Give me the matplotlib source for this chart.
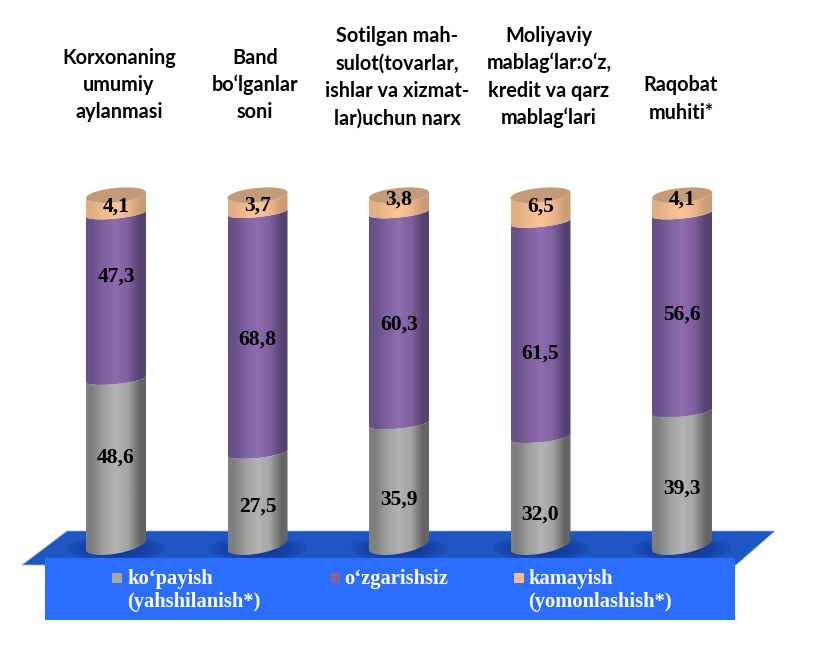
import numpy as np
import matplotlib
matplotlib.use("Agg")
import matplotlib.pyplot as plt
from matplotlib.patches import Polygon, Rectangle, PathPatch
from matplotlib.path import Path

# values
titles = ["Korxonaning\numumiy\naylanmasi",
          "Band\nbo‘lganlar\nsoni",
          "Sotilgan mah-\nsulot(tovarlar,\nishlar va xizmat-\nlar)uchun narx",
          "Moliyaviy\nmablag‘lar:o‘z,\nkredit va qarz\nmablag‘lari",
          "Raqobat\nmuhiti*"]
kopayish = [48.6, 27.5, 35.9, 32.0, 39.3]
ozgarishsiz = [47.3, 68.8, 60.3, 61.5, 56.6]
kamayish = [4.1, 3.7, 3.8, 6.5, 4.1]
legend_labels = ["ko‘payish\n(yahshilanish*)", "o‘zgarishsiz", "kamayish\n(yomonlashish*)"]

# layout, in picture pixels
W, H = 817, 654
X0, STEP = 116.0, 141.5      # first column centre, column spacing
Y0, SCALE = 555.0, 3.5       # y pixel of value 0, pixels per unit
RADIUS = 30.0
ARC_MID = (5.0, 3.0)         # half height and lean of the ellipse between segments
ARC_BASE = (9.0, 5.0)
ARC_TOP = (7.3, 2.8)
title_pos = [(119, 85), (255, 85), (397, 77), (549, 77), (681, 99)]
label_y = [[458, 277, 207], [507, 340, 206], [500, 325, 200], [515, 354, 207], [489, 315, 200]]
legend_pos = [(112, 127), (330, 344), (514, 528)]

SERIF = "Liberation Serif"
grey_ramp = ["#7e7e7e", "#a0a0a0", "#b2b2b2", "#a4a4a4", "#646464"]
purple_ramp = ["#675088", "#7f62a0", "#8e6cad", "#8060a0", "#55436f"]
tan_ramp = ["#e2ae84", "#f2bb90", "#f9c398", "#f0b78b", "#cc9c74"]
TOP_COLOR = "#c49b78"
legend_colors = ["#a6a6a6", "#7f65a0", "#f9b98a"]


def dx(px):
    return (np.asarray(px, dtype=float) - X0) / STEP


def dy(px):
    return (Y0 - np.asarray(px, dtype=float)) / SCALE


def ellipse_pts(i, value, th, arc, lift=0.0):
    # the value marks the lowest point of the front arc
    h, t = arc
    x = i + RADIUS / STEP * np.cos(th)
    y = value + (np.hypot(h, t) + lift + h * np.sin(th) + t * np.cos(th)) / SCALE
    return np.column_stack([x, y])


def wall(ax, i, v0, v1, ramp, arc0, arc1, lift=0.0):
    th = np.linspace(np.pi, 2 * np.pi, 60)
    pts = np.vstack([ellipse_pts(i, v0, th, arc0), ellipse_pts(i, v1, th[::-1], arc1, lift)])
    patch = PathPatch(Path(np.vstack([pts, pts[0]])), fc="none", ec="none")
    ax.add_patch(patch)
    rgb = np.array([matplotlib.colors.to_rgb(c) for c in ramp])[None, :, :]
    xr = RADIUS / STEP
    im = ax.imshow(rgb, extent=[i - xr, i + xr, v0 - 1, v1 + 8], aspect="auto",
                   interpolation="bilinear", zorder=3)
    im.set_clip_path(patch)


fig = plt.figure(figsize=(W / 100, H / 100), dpi=100)
ax = fig.add_axes([0, 0, 1, 1])
ax.axis("off")

# platform
plat = [(22, 565), (67, 531), (775, 531), (736, 565)]
ax.add_patch(Polygon(np.column_stack([dx([p[0] for p in plat]), dy([p[1] for p in plat])]),
                     fc="#1e57c4", ec="#9db8ea", lw=0.5, zorder=1))

# soft shadows at the foot of each column
gx, gy = np.meshgrid(np.linspace(-1, 1, 80), np.linspace(-1, 1, 40))
alpha = np.clip(1.25 * (1 - np.sqrt(gx ** 2 + gy ** 2)), 0, 1) ** 0.6 * 0.85
shadow = np.zeros(gx.shape + (4,))
shadow[..., :3] = matplotlib.colors.to_rgb("#0f2f8a")
shadow[..., 3] = alpha
for i in range(len(titles)):
    ax.imshow(shadow, extent=[dx(X0 + STEP * i - 50), dx(X0 + STEP * i + 50), dy(562), dy(536)],
              aspect="auto", interpolation="bilinear", zorder=2)

# columns
for i in range(len(titles)):
    a, b, c = kopayish[i], ozgarishsiz[i], kamayish[i]
    wall(ax, i, 0, a, grey_ramp, ARC_BASE, ARC_MID)
    wall(ax, i, a, a + b, purple_ramp, ARC_MID, ARC_MID)
    wall(ax, i, a + b, a + b + c, tan_ramp, ARC_MID, ARC_TOP, lift=2.0)
    th = np.linspace(0, 2 * np.pi, 120)
    ax.add_patch(Polygon(ellipse_pts(i, a + b + c, th, ARC_TOP, lift=2.0),
                         fc=TOP_COLOR, ec="none", zorder=4))
    for v, yp in zip((a, b, c), label_y[i]):
        ax.text(i, dy(yp), f"{v:.1f}".replace(".", ","), ha="center", va="center",
                family=SERIF, weight="bold", fontsize=15.5, color="black", zorder=6)

# legend box
ax.add_patch(Rectangle((dx(45), dy(620)), dx(735) - dx(45), dy(558) - dy(620),
                       fc="#2a6dff", ec="none", zorder=5))
for (sx, tx), lab, col in zip(legend_pos, legend_labels, legend_colors):
    ax.add_patch(Rectangle((dx(sx), dy(583)), 10 / STEP, 10 / SCALE, fc=col, ec="none", zorder=6))
    for k, line in enumerate(lab.split("\n")):
        ax.text(dx(tx), dy(579 + 23 * k), line, ha="left", va="center", color="white",
                family=SERIF, weight="bold", fontsize=14.8, zorder=6)

# column headings
for (tx, ty), t in zip(title_pos, titles):
    lines = t.split("\n")
    for k, line in enumerate(lines):
        yp = ty + (k - (len(lines) - 1) / 2) * 27.5
        ax.text(dx(tx), dy(yp), line, ha="center", va="center", family="Lato",
                weight="bold", fontsize=14.3, color="black", zorder=6)

ax.set_xlim(dx(0), dx(W))
ax.set_ylim(dy(H), dy(0))

fig.savefig("out.png", dpi=100)
